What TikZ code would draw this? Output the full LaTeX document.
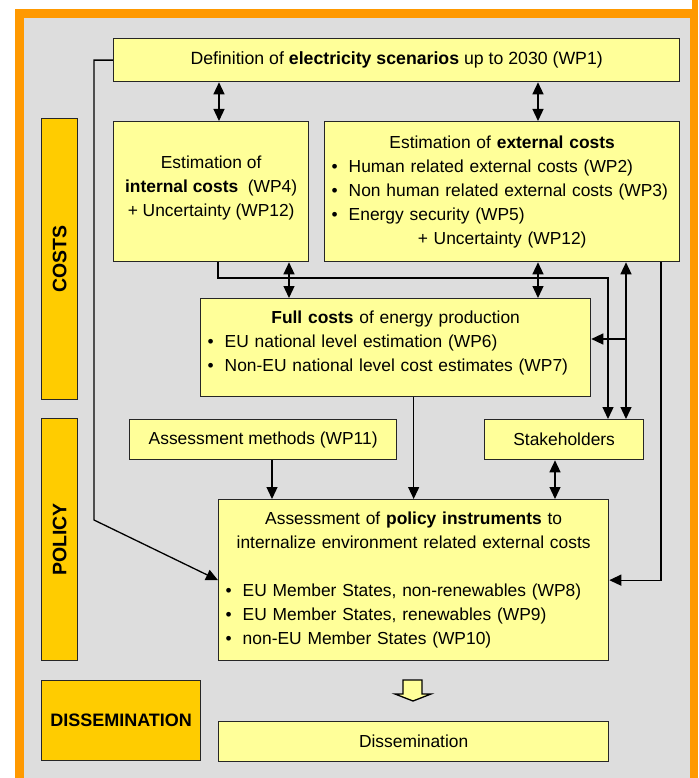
\documentclass[tikz,border=0pt]{standalone}
\usepackage{fontspec}
\setmainfont{Liberation Sans}
\usetikzlibrary{arrows.meta}

\definecolor{frameorange}{HTML}{FF9900}
\definecolor{panelgray}{HTML}{DDDDDD}
\definecolor{boxyellow}{HTML}{FFFF99}
\definecolor{bargold}{HTML}{FFCC00}

\newcommand{\itemline}[1]{\makebox[\linewidth][l]{\textbullet\hspace{11pt}#1}}

\begin{document}
\begin{tikzpicture}[x=1pt, y=-1pt,
    wpbox/.style={draw=black!85, fill=boxyellow, line width=1.3pt, inner sep=0pt, anchor=north west, align=center, font=\fontsize{17.4}{24}\selectfont},
    phasebar/.style={draw=black!85, fill=bargold, line width=1.3pt, inner sep=0pt, anchor=north west, align=center, font=\fontsize{19.5}{24}\selectfont\bfseries},
    link/.style={line width=1.3pt, -{Triangle[length=12pt, width=11pt]}},
    both/.style={line width=1.3pt, {Triangle[length=12pt, width=11pt]}-{Triangle[length=12pt, width=11pt]}}]
    \useasboundingbox (0,0) rectangle (698,778);
    \fill [frameorange] (15,9) rectangle (698,778);
    \fill [frameorange] (692,0) rectangle (698,9);
    \fill [panelgray] (24,18) rectangle (690,778);

    % phase bars
    \node [phasebar, minimum width=36pt, minimum height=281pt] (costs) at (41,118) {\rotatebox{90}{COSTS}};
    \node [phasebar, minimum width=36pt, minimum height=242pt] (policy) at (41,418) {\rotatebox{90}{POLICY}};
    \node [phasebar, minimum width=159pt, minimum height=80pt, font=\fontsize{18}{24}\selectfont\bfseries] (dissbar) at (41,680) {DISSEMINATION};

    % work packages
    \node [wpbox, minimum width=566pt, minimum height=43pt, font=\fontsize{17.7}{24}\selectfont] (wp1) at (113,38) {Definition of \textbf{electricity scenarios} up to 2030 (WP1)};
    \node [wpbox, minimum width=195pt, minimum height=140pt] (intc) at (113,121) {Estimation of\\ \textbf{internal costs}~~(WP4)\\ + Uncertainty (WP12)\\[-14pt]\mbox{}};
    \node [wpbox, minimum width=355pt, minimum height=140pt, text width=341pt] (extc) at (324,121) {Estimation of \textbf{external costs}\\ \itemline{Human related external costs (WP2)}\\ \itemline{Non human related external costs (WP3)}\\ \itemline{Energy security (WP5)}\\ + Uncertainty (WP12)};
    \node [wpbox, minimum width=390pt, minimum height=98pt, text width=376pt] (full) at (200,298) {\textbf{Full costs} of energy production\\ \itemline{EU national level estimation (WP6)}\\ \itemline{Non-EU national level cost estimates (WP7)}\\[-12pt]\mbox{}};
    \node [wpbox, minimum width=267pt, minimum height=40pt] (meth) at (129,419) {Assessment methods (WP11)};
    \node [wpbox, minimum width=159pt, minimum height=40pt] (stake) at (484,419) {Stakeholders};
    \node [wpbox, minimum width=390pt, minimum height=161pt, text width=376pt] (pol) at (218,499) {Assessment of \textbf{policy instruments} to\\ internalize environment related external costs\\ ~\\ \itemline{EU Member States, non-renewables (WP8)}\\ \itemline{EU Member States, renewables (WP9)}\\ \itemline{non-EU Member States (WP10)}};
    \node [wpbox, minimum width=390pt, minimum height=40pt] (diss) at (218,721) {Dissemination};

    \coordinate (fork) at (626,339);

    \draw [both] (wp1.south -| 219,0) -- (intc.north -| 219,0); \draw [both] (wp1.south -| 538,0) -- (extc.north -| 538,0);
    \draw [both] (intc.south -| 289,0) -- (full.north -| 289,0); \draw [both] (extc.south -| 538,0) -- (full.north -| 538,0);
    \draw [link] (intc.south -| 218,0) |- (608,278) -- (stake.north -| 608,0);
    \draw [both] (extc.south -| fork) -- (stake.north -| fork);
    \draw [link] (fork) -- (full.east |- fork);
    \draw [link] (extc.south -| 661,0) |- (pol.east);
    \draw [link] (wp1.west) -| (94,520) -- (pol.west);
    \draw [link] (meth.south -| 272,0) -- (pol.north -| 272,0);
    \draw [link] (full.south -| pol.north) -- (pol.north);
    \draw [both] (stake.south -| 555,0) -- (pol.north -| 555,0);

    % block arrow to dissemination
    \draw [fill=boxyellow, line width=1.3pt] (403,680) -- (422,680) -- (422,694) -- (431,694) -- (413,701) -- (395,694) -- (403,694) -- cycle;
\end{tikzpicture}
\end{document}
